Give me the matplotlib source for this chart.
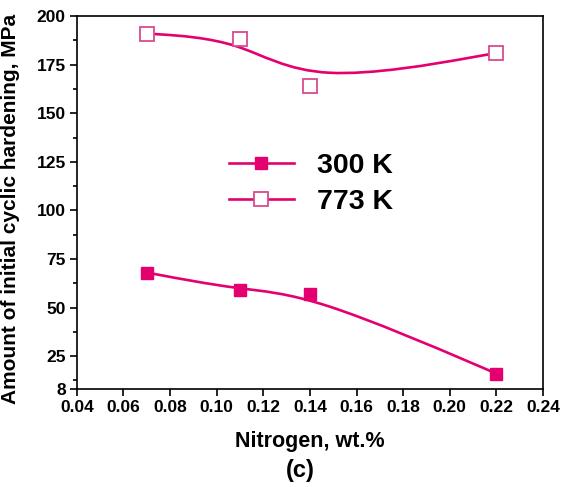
import matplotlib
matplotlib.use("Agg")
import matplotlib.pyplot as plt
from matplotlib.path import Path
from matplotlib.patches import PathPatch
from matplotlib.lines import Line2D

plt.rcParams['font.family'] = ['Liberation Sans', 'DejaVu Sans']
plt.rcParams['font.weight'] = 'bold'

# ---------- data ----------
nitrogen = [0.07, 0.11, 0.14, 0.22]
hard_300K = [68, 59, 57, 16]
hard_773K = [191, 188, 164, 181]
labels = ["300 K", "773 K"]
yticks = [8, 25, 50, 75, 100, 125, 150, 175, 200]
xticks = [0.04, 0.06, 0.08, 0.10, 0.12, 0.14, 0.16, 0.18, 0.20, 0.22, 0.24]

pink = '#E5006F'
pink_open = '#D94A8F'

fig = plt.figure(figsize=(5.61, 4.87), dpi=100)
ax = fig.add_axes([0.137, 0.201, 0.831, 0.766])


def bspline_curve(xs, ys):
    # clamped uniform cubic B-spline (data points = control points), as Bezier pieces
    pts = list(zip(xs, ys))
    ctrl = [pts[0]] * 2 + pts + [pts[-1]] * 2
    verts, codes = [], []
    for i in range(len(ctrl) - 3):
        b0, b1, b2, b3 = ctrl[i:i + 4]
        p0 = tuple((b0[k] + 4 * b1[k] + b2[k]) / 6 for k in range(2))
        p1 = tuple((2 * b1[k] + b2[k]) / 3 for k in range(2))
        p2 = tuple((b1[k] + 2 * b2[k]) / 3 for k in range(2))
        p3 = tuple((b1[k] + 4 * b2[k] + b3[k]) / 6 for k in range(2))
        if not verts:
            verts.append(p0)
            codes.append(Path.MOVETO)
        verts += [p1, p2, p3]
        codes += [Path.CURVE4] * 3
    return PathPatch(Path(verts, codes), facecolor='none', edgecolor=pink, lw=1.9, zorder=2)


ax.add_patch(bspline_curve(nitrogen, hard_300K))
ax.add_patch(bspline_curve(nitrogen, hard_773K))
ax.plot(nitrogen, hard_300K, ls='none', marker='s', ms=9, color=pink, zorder=3)
ax.plot(nitrogen, hard_773K, ls='none', marker='s', ms=10, mfc='white', mec=pink_open,
        mew=1.3, zorder=3)

ax.set_xlim(0.04, 0.24)
ax.set_ylim(8, 200)
ax.set_xticks(xticks)
ax.set_xticklabels([f"{v:.2f}" for v in xticks])
ax.set_yticks(yticks)
ax.set_yticks([12.5 + 25 * i for i in range(8)], minor=True)
ax.tick_params(axis='both', which='major', labelsize=12.5, direction='out', length=5, width=1.2,
               pad=3)
ax.tick_params(axis='y', which='minor', direction='out', length=3, width=1.2)
for lab in ax.get_xticklabels() + ax.get_yticklabels():
    lab.set_fontweight('bold')
for sp in ax.spines.values():
    sp.set_linewidth(1.2)

ax.set_xlabel("Nitrogen, wt.%", fontsize=15.5, fontweight='bold', labelpad=11)
ax.set_ylabel("Amount of initial cyclic hardening, MPa", fontsize=15, fontweight='bold')
ax.yaxis.set_label_coords(-0.122, 0.484)
fig.text(0.535, 0.033, "(c)", fontsize=17, fontweight='bold', ha='center', va='center')

handles = [
    Line2D([], [], color=pink, lw=1.9, marker='s', ms=9),
    Line2D([], [], color=pink, lw=1.9, marker='s', ms=10, mfc='white', mec=pink_open, mew=1.3),
]
ax.legend(handles, labels, loc='center', bbox_to_anchor=(0.502, 0.55), frameon=False,
          prop={'size': 20.5, 'weight': 'bold'}, handlelength=2.3, labelspacing=0.35,
          handletextpad=0.8)

fig.savefig("out.png", dpi=100)
